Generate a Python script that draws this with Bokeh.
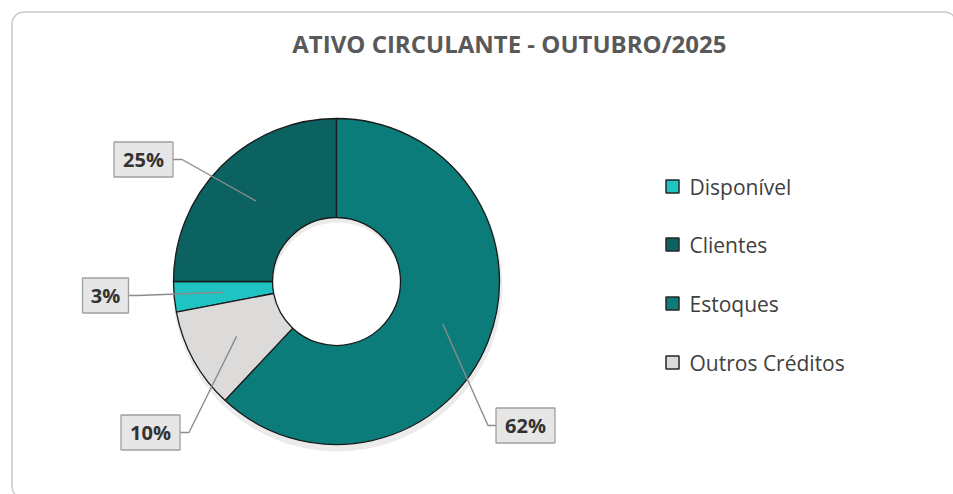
import math
from bokeh.plotting import figure
from bokeh.models import Range1d, ColumnDataSource
from bokeh.core.properties import value
from bokeh.embed import file_html
from bokeh.resources import INLINE

# ---- data ----
categories = ["Disponível", "Clientes", "Estoques", "Outros Créditos"]
values = [3, 25, 62, 10]
title_text = "ATIVO CIRCULANTE  - OUTUBRO/2025"

# ---- style ----
colors = ["#1fc3c1", "#0c6161", "#0b7c7a", "#dddbda"]
W, H = 953, 494
FONT = value("Open Sans")

def X(sx):  # screen px -> data
    return sx

def Y(sy):
    return H - sy

cx, cy = X(336), Y(281)
r_out, r_in = 163, 64

p = figure(width=W, height=H, output_backend="svg", toolbar_location=None,
           x_range=Range1d(0, W), y_range=Range1d(0, H), min_border=0)
p.axis.visible = False
p.grid.visible = False
p.outline_line_color = None
p.background_fill_color = "white"
p.border_fill_color = "white"

# rounded chart-area border
L, T, R, B, rad = 11.5, 11.5, 956, 498, 12
bx_pts, by_pts = [], []
def arc(cxp, cyp, a0, a1, n=10):
    for k in range(n + 1):
        t = math.radians(a0 + (a1 - a0) * k / n)
        bx_pts.append(X(cxp + rad * math.cos(t)))
        by_pts.append(Y(cyp - rad * math.sin(t)))
arc(L + rad, T + rad, 180, 90)
arc(R - rad, T + rad, 90, 0)
arc(R - rad, B - rad, 0, -90)
arc(L + rad, B - rad, -90, -180)
bx_pts.append(bx_pts[0]); by_pts.append(by_pts[0])
p.line(x=bx_pts, y=by_pts, line_color="#c9c9c9", line_width=1.5)

# angles: Excel-like, clockwise from top, Estoques begins at 12 o'clock
total = sum(values)
first_angle = 360 - (values[0] + values[1]) / total * 360
starts, ends, mids = [], [], []
a = first_angle
for v in values:
    s = a
    e = a + v / total * 360
    starts.append(math.radians(90 - s))
    ends.append(math.radians(90 - e))
    mids.append((s + e) / 2)
    a = e

# soft shadow
p.annular_wedge(x=cx + 1, y=cy - 5, inner_radius=r_in, outer_radius=r_out + 2,
                start_angle=0, end_angle=2 * math.pi, fill_color="#000000",
                fill_alpha=0.08, line_color=None)

src = ColumnDataSource(dict(start=starts, end=ends, color=colors))
p.annular_wedge(x=cx, y=cy, inner_radius=r_in, outer_radius=r_out,
                start_angle="start", end_angle="end", direction="clock",
                fill_color="color", line_color="#1a1a1a", line_width=1.3, source=src)

# data labels
labels = [f"{round(v / total * 100)}%" for v in values]
label_centers = [(105, 295), (143, 159), (525, 425), (150, 432)]  # screen px
r_anchor = 114
for i, lab in enumerate(labels):
    bx, by = X(label_centers[i][0]), Y(label_centers[i][1])
    w = 20 + 13 * len(lab)
    h = 35
    ang = math.radians(mids[i])
    ax = cx + r_anchor * math.sin(ang)
    ay = cy + r_anchor * math.cos(ang)
    if bx < cx:
        ex = bx + w / 2
        elx = ex + 9
    else:
        ex = bx - w / 2
        elx = ex - 8
    p.line(x=[ex, elx, ax], y=[by, by, ay], line_color="#8c8c8c", line_width=1.4)
    p.rect(x=bx, y=by, width=w, height=h, fill_color="#e6e6e6",
           line_color="#a0a0a0", line_width=1.3)
    p.text(x=[bx], y=[by], text=[lab], text_font=FONT, text_font_style="bold",
           text_font_size="20px", text_color="#333333",
           text_align="center", text_baseline="middle")

# title
p.text(x=[X(512)], y=[Y(43)], text=[title_text], text_font=FONT,
       text_font_style="bold", text_font_size="24px", text_color="#595959",
       text_align="center", text_baseline="middle")

# legend
leg_y = [186, 244, 303, 362]
for i, cat in enumerate(categories):
    p.rect(x=X(672), y=Y(leg_y[i]), width=13, height=13, fill_color=colors[i],
           line_color="#262626", line_width=1.5)
    p.text(x=[X(689)], y=[Y(leg_y[i])], text=[cat], text_font=FONT,
           text_font_size="21px", text_color="#404040",
           text_align="left", text_baseline="middle")

open("out.html", "w").write(file_html(p, INLINE))
